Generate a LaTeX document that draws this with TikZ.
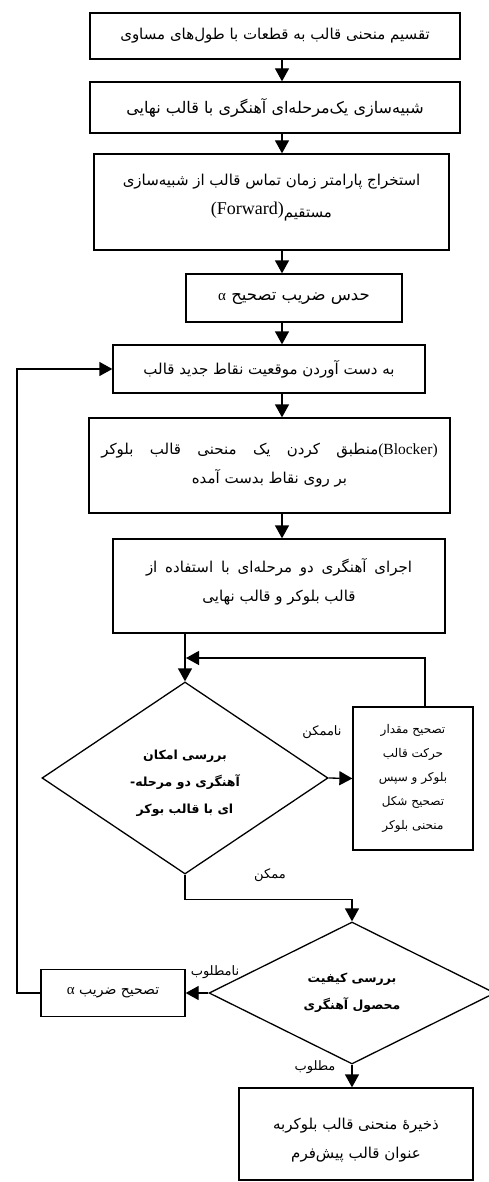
\documentclass[tikz,border=0pt]{standalone}
\usepackage{fontspec}
\usepackage{tikz}
\usetikzlibrary{shapes.geometric}
\usetikzlibrary{arrows.meta}
\TeXXeTstate=1
\newfontfamily\farsi[Script=Arabic]{DejaVu Sans}
\newfontfamily\latin{Liberation Serif}
\newcommand{\fa}[1]{\beginR#1\endR}

\tikzset{
    box/.style={draw, rectangle, align=center, inner sep=0pt, font=\farsi\fontsize{15}{29}\selectfont},
    test/.style={draw, diamond, align=center, inner sep=0pt, font=\farsi\bfseries\fontsize{12.5}{27}\selectfont},
    arr/.style={-{Triangle[width=14pt,length=13pt]}},
    lbl/.style={font=\farsi\fontsize{13}{15}\selectfont}
}

\begin{document}
\begin{tikzpicture}[x=1pt, y=-1pt, line width=1.3pt]
    \useasboundingbox (0,0) rectangle (489,1182);

    \node[box, minimum width=370pt, minimum height=46pt] (split) at (275,36)
        {\fa{تقسیم منحنی قالب به قطعات با طول‌های مساوی}};
    \node[box, minimum width=370pt, minimum height=51pt, font=\farsi\fontsize{16}{29}\selectfont] (sim) at (275,107.5)
        {\fa{شبیه‌سازی یک‌مرحله‌ای آهنگری با قالب نهایی}};
    \node[box, minimum width=355pt, minimum height=96pt] (param) at (271.5,202)
        {\fa{استخراج پارامتر زمان تماس قالب از شبیه‌سازی}\\
         \hbox{\latin\fontsize{18}{29}\selectfont(Forward)}\raisebox{-3pt}{\fa{مستقیم}}\rule[-16pt]{0pt}{16pt}};
    \node[box, minimum width=216pt, minimum height=48pt, font=\farsi\fontsize{16.5}{29}\selectfont] (guess) at (294,298)
        {\fa{حدس ضریب تصحیح {\latin\fontsize{15}{29}\selectfont α}}};
    \node[box, minimum width=312pt, minimum height=48pt] (points) at (269,369)
        {\fa{به دست آوردن موقعیت نقاط جدید قالب}};
    \node[box, minimum width=361pt, minimum height=95pt] (fit) at (269.5,465.5)
        {\makebox[277pt][s]{\beginR منطبق کردن یک منحنی قالب بلوکر\endR}\hbox{\latin\fontsize{15.5}{29}\selectfont(Blocker)}\\
         \fa{بر روی نقاط بدست آمده}};
    \node[box, minimum width=332pt, minimum height=94pt] (forge) at (279,586)
        {\makebox[266pt][s]{\beginR اجرای آهنگری دو مرحله‌ای با استفاده از\endR}\\
         \fa{قالب بلوکر و قالب نهایی}\rule[-12pt]{0pt}{12pt}};

    \node[test, minimum width=286pt, minimum height=192pt] (check) at (185,778)
        {\rule{0pt}{21pt}\fa{بررسی امکان}\\ \fa{آهنگری دو مرحله-}\\ \fa{ای با قالب بوکر}};
    \node[box, minimum width=120pt, minimum height=143pt, font=\farsi\fontsize{12}{24}\selectfont] (fix) at (413,778.5)
        {\fa{تصحیح مقدار}\\ \fa{حرکت قالب}\\ \fa{بلوکر و سپس}\\ \fa{تصحیح شکل}\\ \fa{منحنی بلوکر}};

    \node[test, minimum width=286pt, minimum height=142pt] (quality) at (352,993)
        {\fa{بررسی کیفیت}\\ \fa{محصول آهنگری}};
    \node[box, minimum width=144pt, minimum height=47pt, font=\farsi\fontsize{14}{29}\selectfont] (corr) at (113,993)
        {\fa{تصحیح ضریب {\latin\fontsize{15}{29}\selectfont α}}};
    \node[box, minimum width=234pt, minimum height=92pt] (save) at (356,1134)
        {\rule{0pt}{24pt}\fa{ذخیرهٔ منحنی قالب بلوکربه}\\ \fa{عنوان قالب پیش‌فرم}};

    \node[lbl] (nope) at (322,732) {\fa{ناممکن}};
    \node[lbl] (okay) at (270,875) {\fa{ممکن}};
    \node[lbl] (bad) at (215,972) {\fa{نامطلوب}};
    \node[lbl] (good) at (315,1067) {\fa{مطلوب}};

    \coordinate (col) at (282,0);
    \coordinate (rise) at (425,658);
    \coordinate (join) at (186,658);
    \coordinate (back) at (17,0);

    \draw[arr] (split.south -| col) -- (sim.north -| col);
    \draw[arr] (sim.south -| col) -- (param.north -| col);
    \draw[arr] (param.south -| col) -- (guess.north -| col);
    \draw[arr] (guess.south -| col) -- (points.north -| col);
    \draw[arr] (points.south -| col) -- (fit.north -| col);
    \draw[arr] (fit.south -| col) -- (forge.north -| col);
    \draw[arr] (forge.south -| check.north) -- (check.north);

    \draw[arr] (check.east) -- (fix.west);
    \draw[arr] (fix.north -| rise) -- (rise) -- (join);
    \draw[arr] (check.south) -- ++(0,25) -| (quality.north);

    \draw[arr] (quality.west) -- (corr.east);
    \draw[arr] (corr.west) -- (corr.west -| back) |- (points.west);
    \draw[arr] (quality.south) -- (quality.south |- save.north);
\end{tikzpicture}
\end{document}
